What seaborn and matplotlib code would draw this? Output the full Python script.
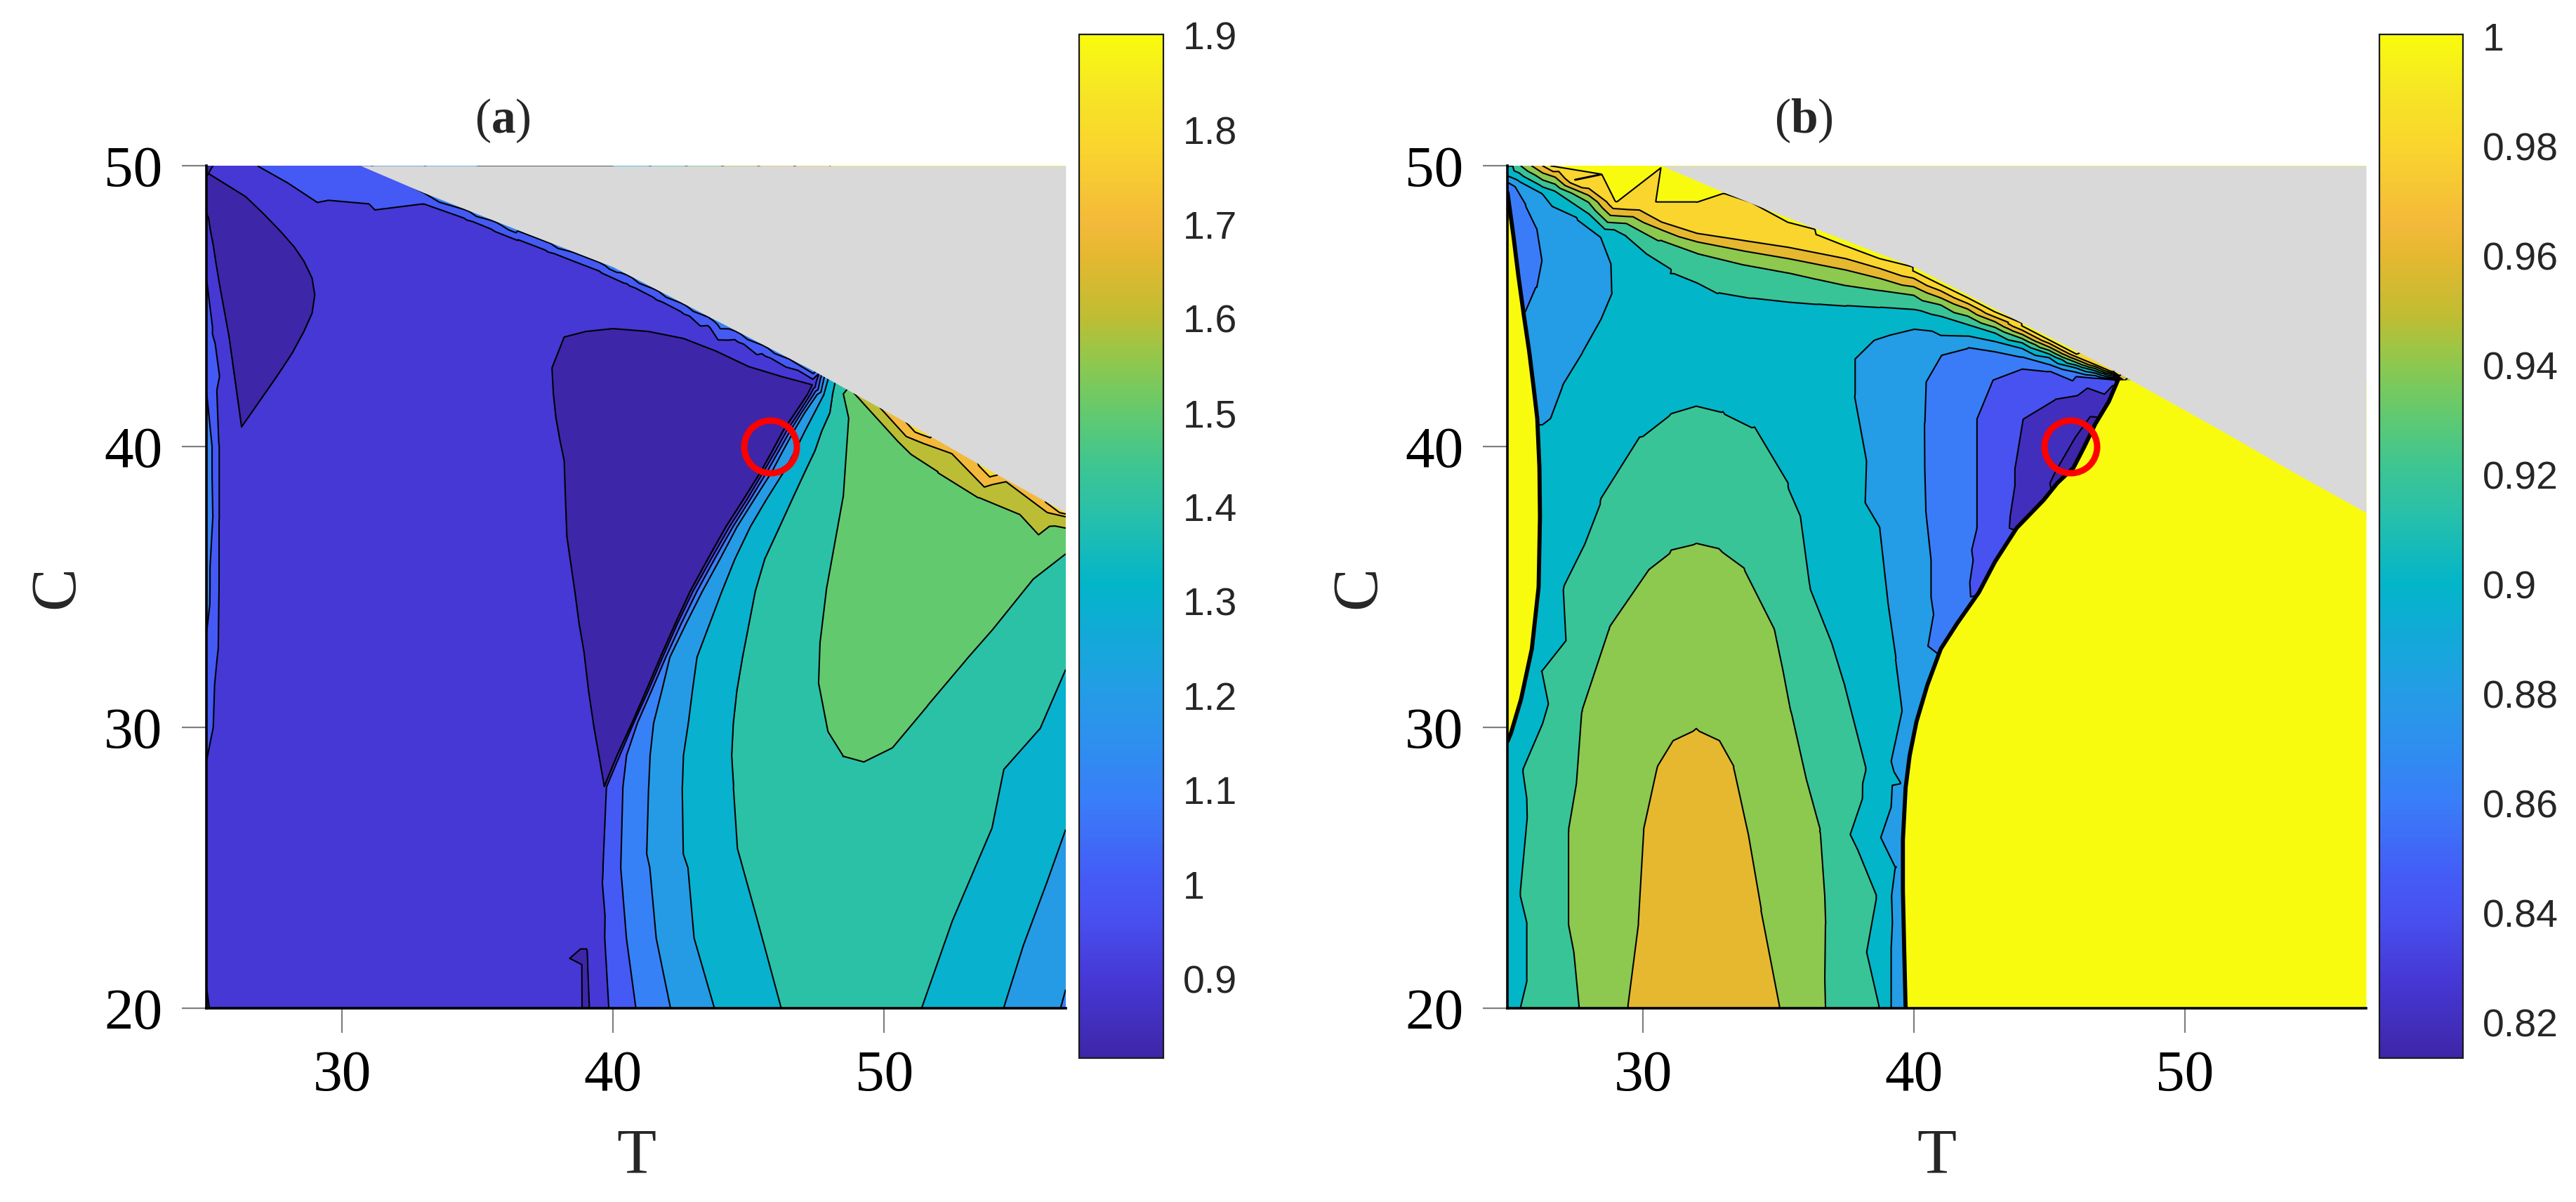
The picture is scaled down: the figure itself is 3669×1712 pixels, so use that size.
import numpy as np
import matplotlib
matplotlib.use("Agg")
import matplotlib.pyplot as plt
import matplotlib.tri as mtri
from matplotlib.colors import LinearSegmentedColormap, Normalize
from matplotlib.cm import ScalarMappable
import seaborn as sns

# ---------------- shared ----------------
# boundary of the grey (infeasible) region
mask_T = [30.7, 33.0, 36.4, 40.0, 44.0, 47.4, 51.3, 54.0, 56.7]
mask_C = [50.0, 49.05, 47.75, 46.4, 44.4, 42.7, 40.6, 39.1, 37.65]
circle_T = [45.8]
circle_C = [40.0]

# ---------------- panel (a) ----------------
# compressed fan right of the dark lobe: T position of each contour at common C rows
fan_C = [27.9, 29.0, 30.15, 31.3, 32.5, 33.7, 34.85, 36.0, 37.15, 38.1, 39.1, 39.85, 40.55, 41.2, 41.85]
fan_T_090 = [39.68, 40.15, 40.7, 41.22, 41.75, 42.3, 42.85, 43.5, 44.17, 44.8, 45.45, 45.88, 46.27, 46.72, 47.17]
fan_T_100 = [39.77, 40.25, 40.76, 41.3, 41.83, 42.38, 42.95, 43.62, 44.3, 44.93, 45.55, 46.0, 46.4, 46.85, 47.28]
fan_T_110 = [40.37, 40.5, 40.9, 41.42, 41.95, 42.52, 43.1, 43.75, 44.43, 45.05, 45.68, 46.12, 46.53, 46.95, 47.4]
fan_T_120 = [41.32, 41.37, 41.5, 41.8, 42.1, 42.7, 43.3, 43.95, 44.58, 45.2, 45.86, 46.27, 46.67, 47.07, 47.53]
fan_T_130 = [42.56, 42.6, 42.78, 42.93, 43.1, 43.57, 44.02, 44.5, 45.07, 45.65, 46.3, 46.72, 47.08, 47.43, 47.78]
fan_T_140 = [44.45, 44.38, 44.44, 44.57, 44.78, 45.02, 45.25, 45.6, 46.15, 46.6, 47.08, 47.45, 47.7, 48.0, 48.1]

# dark lobe (value < 0.9): top arc and left side (the right side is fan_T_090)
a_lobe2_top_left = [(47.35, 42.2), (46.2, 42.5), (45.0, 42.85), (43.8, 43.4), (42.6, 43.85), (41.3, 44.1),
                    (40.0, 44.2), (39.0, 44.1), (38.2, 43.9), (37.75, 42.8), (37.8, 41.9), (37.9, 41.0),
                    (38.05, 40.2), (38.2, 39.5), (38.25, 38.1), (38.3, 36.8), (38.45, 35.8), (38.6, 34.8),
                    (38.75, 33.7), (38.93, 32.7), (39.1, 31.3), (39.3, 30.0), (39.5, 28.9)]
a_iso_090_lobe1 = [(25.08, 49.72), (25.7, 49.35), (26.45, 48.9), (27.1, 48.3), (27.75, 47.65), (28.25, 47.1),
                   (28.6, 46.6), (28.9, 46.0), (29.0, 45.4), (28.9, 44.75), (28.6, 44.1), (28.15, 43.3),
                   (27.6, 42.5), (26.95, 41.6), (26.3, 40.7), (26.2, 41.4), (26.1, 42.1), (25.97, 43.0),
                   (25.84, 43.9), (25.67, 44.8), (25.5, 45.7), (25.37, 46.45), (25.25, 47.2), (25.15, 47.7),
                   (25.08, 48.15), (25.0, 48.3), (25.0, 49.6)]
a_iso_100_low = [(39.85, 20), (39.7, 22.5), (39.64, 25)]
a_iso_110_low = [(40.85, 20), (40.5, 22.5), (40.29, 25)]
a_iso_120_low = [(42.13, 20), (41.6, 22.5), (41.25, 25.5)]
a_iso_130_low = [(43.75, 20), (43.0, 22.5), (42.6, 25.5)]
a_iso_140_low = [(46.22, 20), (45.35, 23.1), (44.6, 25.7)]
a_fan_tops = [(47.6, 42.6), (47.7, 42.55), (47.8, 42.5), (47.95, 42.45), (48.2, 42.3)]
a_iso_150 = [(48.65, 42.05), (48.7, 41.0), (48.5, 38.2), (47.9, 35.0), (47.65, 33.0), (47.6, 31.6), (47.95, 29.85),
             (48.5, 29.0), (49.25, 28.8), (50.3, 29.3), (51.6, 30.8), (53.0, 32.4), (54.0, 33.5), (55.5, 35.3),
             (56.7, 36.2)]
a_iso_160 = [(48.9, 41.9), (50.5, 40.2), (52.0, 39.1), (53.5, 38.2), (55.0, 37.6), (56.7, 37.1)]
a_iso_170 = [(52.5, 39.75), (54.5, 38.75), (56.7, 37.5)]
a_iso_140r = [(51.37, 20), (52.5, 23.1), (53.96, 26.4), (55.74, 29.96), (56.7, 32.1)]
a_iso_130r = [(54.4, 20), (55.15, 22.3), (56.0, 24.5), (56.7, 26.4)]
a_iso_120r = [(56.5, 20), (56.7, 20.7)]
a_iso_100_top = [(26.9, 50), (28.0, 49.4), (29.1, 48.7), (31.0, 48.65), (33.0, 48.65)]
a_mask_V = [1.08, 1.1, 1.15, 1.15, 1.15, 1.15, 1.85, 1.85, 1.85]

# panel (a): single samples (T, C, value)
a_samples = [
    # main plateau
    (27.5, 21, 0.95), (32, 21, 0.95), (36.5, 21, 0.95), (27.5, 26, 0.95), (32, 26, 0.95), (36.5, 26, 0.95),
    (28, 31, 0.95), (33, 31, 0.95), (37, 31, 0.95), (28.5, 36, 0.95), (33, 36, 0.95), (36.5, 36, 0.95),
    (28, 39.5, 0.95), (32, 40, 0.95), (36, 40.5, 0.95), (30.5, 43, 0.95), (34, 43.5, 0.95), (36.5, 44.5, 0.95),
    (31, 46.5, 0.95), (33.5, 46.5, 0.95), (31, 47.9, 0.96), (29.5, 48.2, 0.96), (27.3, 48.95, 0.96),
    (38.5, 25, 0.95), (38.8, 27.5, 0.95), (38.3, 22.5, 0.95), (26.5, 38, 0.95), (27, 33, 0.95), (26.5, 24, 0.95),
    (30, 20, 0.95), (35, 20, 0.95), (38.5, 20, 0.95), (25.4, 20, 0.95), (37.2, 38.0, 0.95), (36.8, 42.5, 0.95),
    (39.0, 45.2, 0.95), (37.3, 40.0, 0.95), (37.6, 36.0, 0.95), (38.0, 33.0, 0.95), (38.6, 30.0, 0.95),
    (38.9, 29.0, 0.95), (41.0, 44.75, 0.95), (43.0, 44.1, 0.95), (29.8, 43.0, 0.95), (27.8, 41.2, 0.95),
    # dark lobes
    (26.0, 47.5, 0.86), (26.8, 46.0, 0.86), (27.5, 45.0, 0.86), (26.6, 43.5, 0.86), (26.5, 42.2, 0.87),
    (40.0, 42.5, 0.86), (42.5, 42.8, 0.86), (44.5, 42.3, 0.86), (39.5, 38.5, 0.86), (41.8, 38.5, 0.86),
    (43.6, 39.6, 0.86), (40.5, 34.5, 0.86), (40.0, 31.5, 0.87), (39.7, 29.3, 0.88), (39.4, 34.0, 0.87),
    (39.0, 37.0, 0.86), (38.7, 41.0, 0.86),
    (40.0, 30.1, 0.88), (40.15, 31.3, 0.87), (40.4, 32.7, 0.86), (40.5, 33.7, 0.86), (40.7, 34.8, 0.86),
    (40.9, 35.8, 0.86), (41.05, 36.8, 0.86), (41.4, 38.1, 0.86), (41.9, 39.5, 0.86), (42.2, 40.6, 0.86),
    (42.5, 41.9, 0.86), (44.0, 41.0, 0.86), (45.2, 41.9, 0.86), (43.2, 37.5, 0.86), (42.3, 35.6, 0.86),
    # left edge strip
    (25, 20, 0.88), (25, 22, 0.93), (25, 25, 0.95), (25, 28, 0.98), (25, 30, 1.03), (25, 32.5, 1.08),
    (25, 35, 1.14), (25, 37.5, 1.2), (25, 40, 1.18), (25, 42, 1.1), (25, 44, 1.05), (25, 46, 1.0),
    (25, 47.5, 0.95), (25, 48.8, 0.87), (25, 49.5, 0.87), (25, 50, 0.88),
    (25.5, 28, 0.95), (25.5, 30, 0.97), (25.5, 32.5, 0.98), (25.5, 35, 0.99), (25.5, 37.5, 0.99),
    (25.5, 40, 0.99), (25.5, 42, 0.97), (25.45, 44, 0.95),
    # small dark sliver near T = 39
    (39.0, 20, 0.88), (39.4, 20, 0.94), (38.95, 22, 0.885), (39.0, 24, 0.91), (39.3, 22.5, 0.95),
    # fan between the bands
    (40.35, 20, 1.05), (41.5, 20, 1.15), (42.95, 20, 1.25), (45.0, 20, 1.35),
    (39.97, 25, 1.05), (40.78, 25, 1.15), (41.95, 25, 1.25), (43.6, 25, 1.35),
    (41.15, 30, 1.15), (42.1, 30, 1.25), (43.6, 30, 1.35), (43.7, 35, 1.25), (44.7, 35, 1.35),
    # teal / cyan / green / olive regions
    (48.5, 21, 1.45), (47.5, 25, 1.45), (50.5, 24.5, 1.45), (46, 30, 1.45), (46.3, 33.5, 1.45),
    (47.3, 37.5, 1.45), (52.5, 28, 1.45), (55.5, 33, 1.45), (56.7, 34, 1.45), (49.5, 27.0, 1.47),
    (53.4, 21.5, 1.35), (55, 25.5, 1.35), (56.3, 29.0, 1.35), (55.8, 21.5, 1.25),
    (50.5, 36, 1.55), (52, 34.5, 1.55), (49.5, 32, 1.55), (50.5, 39.5, 1.55), (54, 36.3, 1.55), (49.8, 30.5, 1.55),
    (51.5, 39.95, 1.65), (54.0, 38.5, 1.65), (55.8, 37.65, 1.65),
    # right / bottom / top edges
    (56.7, 20, 1.19), (56.7, 23, 1.25), (56.7, 29, 1.36), (56.7, 36.8, 1.56), (56.7, 42, 1.9), (56.7, 50, 1.9),
    (48.8, 20, 1.47), (52.9, 20, 1.35), (55.5, 20, 1.25),
    (25.5, 50, 0.92), (26.2, 50, 0.96), (28.5, 50, 1.05), (35, 50, 1.3), (40, 50, 1.3), (48, 50, 1.9),
    (29.5, 49.5, 1.05), (31.5, 49.1, 1.05), (28.2, 49.8, 1.04),
    # just below / above the grey boundary
    (34.5, 48.03, 0.97), (35.5, 47.64, 0.97), (36.5, 47.26, 0.97), (37.5, 46.89, 0.97), (38.5, 46.51, 0.97),
    (39.5, 46.14, 0.97), (40.5, 45.70, 0.97), (41.5, 45.20, 0.97), (42.5, 44.70, 0.97), (43.5, 44.20, 0.97),
    (44.5, 43.70, 0.97), (45.5, 43.20, 0.97),
    (34.5, 48.36, 1.06), (35.5, 47.97, 1.06), (36.5, 47.59, 1.06), (37.5, 47.22, 1.06), (38.5, 46.84, 1.06),
    (39.5, 46.47, 1.06), (40.5, 46.03, 1.06), (41.5, 45.53, 1.06), (42.5, 45.03, 1.06), (43.5, 44.53, 1.06),
    (44.5, 44.03, 1.06), (45.5, 43.53, 1.06), (46.5, 43.03, 1.06),
    (34.5, 48.78, 1.25), (35.5, 48.39, 1.25), (36.5, 48.01, 1.25), (37.5, 47.64, 1.25), (38.5, 47.26, 1.25),
    (39.5, 46.89, 1.25), (40.5, 46.45, 1.25), (41.5, 45.95, 1.25), (42.5, 45.45, 1.25), (43.5, 44.95, 1.25),
    (44.5, 44.45, 1.25), (45.5, 43.95, 1.25), (46.5, 43.45, 1.25),
    (45, 48, 1.3), (50, 45, 1.9), (53, 43, 1.9),
]
a_levels = [0.9, 1.0, 1.1, 1.2, 1.3, 1.4, 1.5, 1.6, 1.7, 1.8, 1.9]
a_ticks = [0.9, 1.0, 1.1, 1.2, 1.3, 1.4, 1.5, 1.6, 1.7, 1.8, 1.9]
a_ticklabels = ["0.9", "1", "1.1", "1.2", "1.3", "1.4", "1.5", "1.6", "1.7", "1.8", "1.9"]
a_range = (0.8159, 1.9013)

a_lobe2_loop = list(zip(fan_T_090, fan_C)) + a_lobe2_top_left
a_lines = [(0.9, a_lobe2_loop), (0.9, a_iso_090_lobe1),
           (1.0, a_iso_100_low + list(zip(fan_T_100, fan_C)) + [a_fan_tops[0]]),
           (1.1, a_iso_110_low + list(zip(fan_T_110, fan_C)) + [a_fan_tops[1]]),
           (1.2, a_iso_120_low + list(zip(fan_T_120, fan_C)) + [a_fan_tops[2]]),
           (1.3, a_iso_130_low + list(zip(fan_T_130, fan_C)) + [a_fan_tops[3]]),
           (1.4, a_iso_140_low + list(zip(fan_T_140, fan_C)) + [a_fan_tops[4]]),
           (1.5, a_iso_150), (1.6, a_iso_160), (1.7, a_iso_170),
           (1.4, a_iso_140r), (1.3, a_iso_130r), (1.2, a_iso_120r), (1.0, a_iso_100_top)]

# ---------------- panel (b) ----------------
# saturated (value 1) regions: right front and left strip, edges
b_front_T = [39.7, 39.65, 39.6, 39.6, 39.7, 39.85, 40.1, 40.5, 41.0, 41.6, 42.4, 43.0, 43.8, 44.8, 45.3, 45.9,
             46.3, 46.7, 47.2, 47.54]
b_front_C = [20, 22, 24.2, 26, 27.85, 29.0, 30.2, 31.5, 32.8, 33.7, 34.8, 35.9, 37.1, 38.1, 38.7, 39.25,
             40.0, 40.8, 41.6, 42.37]
b_strip_T = [25.0, 25.13, 25.5, 25.9, 26.15, 26.2, 26.18, 26.1, 25.96, 25.8, 25.6, 25.4, 25.22, 25.0]
b_strip_C = [29.5, 29.8, 31.0, 32.8, 35.0, 37.5, 39.25, 41.0, 42.15, 43.4, 44.7, 46.1, 47.5, 49.05]

b_iso_088_lobe = [(25.3, 49.25), (25.7, 48.6), (26.1, 47.8), (26.3, 46.6), (26.1, 45.6)]
b_iso_090_lobe = [(25.0, 49.65), (26.3, 49.0), (27.6, 48.15), (28.5, 47.5), (28.9, 46.5), (28.93, 45.48),
                  (28.5, 44.5), (27.8, 43.3), (27.1, 42.2), (26.3, 40.75)]
b_iso_092_top = [(25.2, 50), (26.76, 49.1), (28.0, 48.3), (29.4, 47.5), (31.1, 46.3), (32.0, 45.95), (32.8, 45.55),
                 (34.0, 45.35), (35.4, 45.2), (36.45, 45.12), (37.5, 45.05), (38.75, 44.98), (40, 44.9),
                 (41, 44.65), (42, 44.35), (43, 44.05), (44, 43.7), (45, 43.3), (46, 42.9), (46.7, 42.7),
                 (47.4, 42.5)]
b_iso_094_top = [(25.5, 50), (26.76, 49.35), (28.0, 48.7), (29.4, 47.95), (30.7, 47.35), (32, 46.9), (33.7, 46.5),
                 (35.4, 46.2), (36.45, 45.97), (37.5, 45.75), (38.75, 45.57), (40, 45.4), (41, 45.05), (42, 44.65),
                 (43, 44.25), (44, 43.85), (45, 43.43), (46, 43.0), (46.7, 42.78), (47.4, 42.55)]
b_iso_096_top = [(25.9, 50), (26.76, 49.6), (28.0, 48.95), (29.4, 48.2), (30.7, 47.72), (32, 47.3), (33.7, 46.98),
                 (35.4, 46.7), (36.45, 46.5), (37.5, 46.3), (38.75, 46.0), (40, 45.7), (41, 45.3), (42, 44.9),
                 (43, 44.45), (44, 44.0), (45, 43.55), (46, 43.1), (46.7, 42.85), (47.4, 42.6)]
b_iso_098_top = [(26.3, 50), (26.9, 49.8), (28.0, 49.2), (29.4, 48.45), (30.7, 48.0), (32, 47.6), (33.7, 47.35),
                 (35.4, 47.1), (36.45, 46.9), (37.5, 46.7), (38.75, 46.35), (40, 46.0), (41, 45.55), (42, 45.1),
                 (43, 44.62), (44, 44.15), (45, 43.68), (46, 43.2), (46.7, 42.92), (47.4, 42.65)]
b_iso_100_top = [(26.6, 50), (27.5, 49.5), (29.0, 48.73), (30.5, 48.73), (32, 48.73), (34.0, 48.73), (35.4, 48.0),
                 (36.45, 47.55), (37.5, 47.15), (38.75, 46.7), (40, 46.25), (41, 45.77), (42, 45.3), (43, 44.8),
                 (44, 44.3), (45, 43.8), (46, 43.3)]
b_iso_090_right = [(39.15, 20), (39.15, 22), (39.3, 25), (39.5, 28), (39.55, 30.6), (39.3, 32.5), (39.0, 34.5),
                   (38.7, 37.1), (38.2, 39.5), (37.76, 41.8), (37.76, 43.1), (38.5, 43.8), (40, 44.2), (42, 43.95),
                   (43, 43.75), (44, 43.5), (45, 43.17), (46, 42.8), (46.7, 42.62), (47.4, 42.45)]
b_iso_088_right = [(40.9, 32.6), (40.7, 34.0), (40.6, 36.0), (40.4, 37.8), (40.36, 39.25), (40.35, 40.8), (40.4, 42.3),
                   (41.0, 43.3), (42.0, 43.55), (43, 43.4), (44, 43.2), (45, 42.93), (46, 42.65), (46.7, 42.53),
                   (47.4, 42.42)]
b_iso_086_right = [(42.35, 34.7), (42.3, 37.1), (42.3, 39.0), (42.3, 41.0), (42.9, 42.4), (44, 42.8), (45, 42.7),
                   (46, 42.5), (46.7, 42.44), (47.4, 42.38)]
b_iso_084_right = [(43.75, 37.0), (43.7, 39.25), (44.0, 41.0), (45.2, 41.7), (46.4, 42.1), (47.35, 42.2)]
b_iso_082_right = [(45.3, 39.3), (45.9, 40.3), (46.5, 41.1)]
b_iso_092_u = [(25.5, 20), (25.5, 24), (25.6, 28.5), (26.3, 32), (27.1, 34.95), (28.5, 38.0), (30.0, 40.3),
               (31.0, 41.05), (31.97, 41.33), (32.95, 41.1), (34.0, 40.6), (35.3, 38.5), (36.1, 35.0), (37.4, 31.5),
               (38.2, 28.5), (38.6, 24), (38.7, 20)]
b_iso_094_u = [(27.7, 20), (27.3, 23), (27.3, 26.3), (27.8, 30.6), (28.8, 33.5), (30.3, 35.6), (31.1, 36.2),
               (31.97, 36.4), (32.85, 36.2), (33.7, 35.6), (34.8, 33.5), (35.4, 30.6), (36.5, 26.3), (36.7, 23),
               (36.7, 20)]
b_iso_096_u = [(29.5, 20), (29.9, 23), (30.1, 26.3), (30.6, 28.5), (31.2, 29.45), (31.97, 29.8), (32.75, 29.45),
               (33.3, 28.5), (33.8, 26.3), (34.3, 23.5), (35.0, 20)]
b_mask_V = [1.0, 1.0, 1.0, 1.0, 1.0, 1.0, 1.0, 1.0, 1.0]

b_samples = [
    # next to the left strip
    (25.23, 29.8, 0.905), (25.6, 31.0, 0.905), (26.0, 32.8, 0.905), (26.25, 35, 0.905), (26.3, 37.5, 0.905),
    (26.28, 39.25, 0.905), (26.2, 41, 0.895), (26.06, 42.15, 0.89), (25.9, 43.4, 0.885), (25.7, 44.7, 0.88),
    (25.32, 47.5, 0.87), (25.1, 49.05, 0.87),
    # left edge (under the strip the field keeps its neighbour value)
    (25, 20, 0.91), (25, 24, 0.91), (25, 27, 0.91), (25, 29.5, 0.905), (25, 32, 0.905), (25, 35, 0.905),
    (25, 38, 0.905), (25, 41, 0.895), (25, 44, 0.88), (25, 47, 0.87), (25, 48.7, 0.87), (25, 49.3, 0.87),
    (25, 49.85, 0.91), (25, 50, 0.92),
    # inner side of the right front
    (39.7, 20, 0.885), (39.65, 22, 0.885), (39.6, 24.2, 0.885), (39.6, 26, 0.885), (39.7, 27.85, 0.885),
    (39.85, 29.0, 0.885), (40.1, 30.2, 0.885), (40.5, 31.5, 0.885), (41.0, 32.8, 0.87), (41.6, 33.7, 0.865),
    (42.4, 34.8, 0.855), (43.0, 35.9, 0.85), (43.8, 37.1, 0.835), (44.8, 38.1, 0.825), (45.3, 38.7, 0.815),
    (45.9, 39.25, 0.8135), (46.7, 40.8, 0.815), (47.2, 41.6, 0.83),
    # under the saturated region
    (40.5, 21, 0.885), (41, 26, 0.885), (42, 30, 0.885), (43.5, 32.5, 0.87), (45, 35, 0.85), (46.5, 37.5, 0.83),
    (48, 39.5, 0.815), (49, 41.2, 0.83), (50, 22, 0.885), (52, 30, 0.88), (54, 36, 0.85), (56.7, 20, 0.885),
    (56.7, 30, 0.88), (56.7, 37.0, 0.85),
    # nested bands near the circle
    (39.0, 41.0, 0.89), (39.3, 38.0, 0.89), (39.8, 35.0, 0.89), (40.0, 33.0, 0.89), (39.3, 43.5, 0.89),
    (39.9, 30.8, 0.89), (39.45, 24.0, 0.89),
    (41.3, 39, 0.87), (41.3, 36, 0.87), (41.4, 34.3, 0.87), (41.6, 42.3, 0.87), (43, 42.9, 0.87),
    (43.0, 38.5, 0.85), (43.0, 40.5, 0.85), (42.9, 36.6, 0.85), (44.2, 42.0, 0.85), (45.8, 42.2, 0.85),
    (44.4, 38.7, 0.83), (44.8, 40.5, 0.83),
    # upper-left lobes
    (25.75, 47.0, 0.87), (27.3, 46.5, 0.89), (27.5, 45.0, 0.89), (26.8, 43.5, 0.89), (26.6, 48.3, 0.89),
    # cyan plateau
    (36.5, 42.5, 0.91), (37.0, 38.0, 0.91), (37.9, 33.0, 0.91), (38.85, 28.0, 0.91), (38.95, 22.0, 0.91),
    (29.8, 46.6, 0.91), (29.5, 43.5, 0.91), (33, 44.0, 0.91), (35.5, 44.0, 0.91), (40.5, 44.55, 0.91),
    (27.0, 37.0, 0.91), (27.5, 41.0, 0.91), (30, 41.5, 0.91), (34.5, 42.0, 0.91), (31.97, 43.5, 0.91),
    (38.95, 20, 0.91),
    # bottom U
    (32, 22, 0.975), (32, 26, 0.975), (28.5, 22, 0.95), (28.7, 28, 0.95), (32, 33, 0.95), (35.7, 24, 0.95),
    (34.3, 31, 0.95), (29.5, 31, 0.95), (26.5, 22, 0.93), (26.5, 28, 0.93), (30, 38.5, 0.93), (32, 39.5, 0.93),
    (37.5, 22, 0.93), (37.3, 28, 0.93), (35.95, 33, 0.93), (28.8, 36, 0.93), (34.5, 37.0, 0.93),
    (26.6, 20, 0.93), (28.6, 20, 0.95), (32, 20, 0.975), (35.85, 20, 0.95), (37.7, 20, 0.93),
    # upper stacked bands
    (30.5, 47.15, 0.93), (35.4, 45.7, 0.93), (40, 45.15, 0.93), (35.4, 46.45, 0.95), (40, 45.55, 0.95),
    (35.4, 46.9, 0.97), (40, 45.85, 0.97), (32, 48.2, 0.99), (35.4, 47.5, 0.99), (40, 46.12, 0.99), (30, 48.55, 0.99),
    (37.5, 46.93, 0.99),
    # saturated top wedge and the hidden grey area
    (56.7, 42, 1.0), (56.7, 50, 1.0), (45, 48, 1.0), (50, 45, 1.0), (40, 50, 1.0), (35, 50, 1.0),
    (28.5, 49.7, 1.0), (31, 49.3, 1.0), (48, 50, 1.0),
]
b_lines = [(0.88, b_iso_088_lobe), (0.9, b_iso_090_lobe),
           (0.92, b_iso_092_top), (0.94, b_iso_094_top), (0.96, b_iso_096_top), (0.98, b_iso_098_top),
           (1.0, b_iso_100_top), (0.9, b_iso_090_right), (0.88, b_iso_088_right), (0.86, b_iso_086_right),
           (0.84, b_iso_084_right), (0.82, b_iso_082_right), (0.92, b_iso_092_u), (0.94, b_iso_094_u),
           (0.96, b_iso_096_u)]
b_levels = [0.82, 0.84, 0.86, 0.88, 0.90, 0.92, 0.94, 0.96, 0.98, 1.0]
b_ticks = [0.82, 0.84, 0.86, 0.88, 0.90, 0.92, 0.94, 0.96, 0.98, 1.0]
b_ticklabels = ["0.82", "0.84", "0.86", "0.88", "0.9", "0.92", "0.94", "0.96", "0.98", "1"]
b_range = (0.8135, 1.0004)
b_saturated_value = 1.0

# ---------------- style ----------------
sns.set_theme(style="white")
plt.rcParams["font.family"] = ["Liberation Serif", "DejaVu Serif"]
plt.rcParams["mathtext.fontset"] = "custom"
plt.rcParams["mathtext.rm"] = "Liberation Serif"
plt.rcParams["mathtext.bf"] = "Liberation Serif:bold"

parula_pos = [0.0, 0.04, 0.08, 0.14, 0.17, 0.25, 0.30, 0.355, 0.41, 0.463, 0.54, 0.575, 0.63, 0.68, 0.725,
              0.785, 0.815, 0.89, 0.95, 1.0]
parula_hex = ["#3E26A8", "#4230C1", "#4639D7", "#4852F0", "#4559F5", "#3A7DF8", "#2F8DF0", "#259CE6", "#13A9D8",
              "#03B5C9", "#2CC1A6", "#3BC594", "#62C96F", "#8EC84E", "#BFBD33", "#E5B830", "#F3B93A", "#F9D42E",
              "#F6E723", "#F9FB0E"]
parula = LinearSegmentedColormap.from_list("parula_like", list(zip(parula_pos, parula_hex)))

fig = plt.figure(figsize=(36.69, 17.12), dpi=100)
ax_a = fig.add_axes([0.0801, 0.1612, 0.3336, 0.7009])
cax_a = fig.add_axes([0.4189, 0.1197, 0.0327, 0.8516])
ax_b = fig.add_axes([0.5852, 0.1612, 0.3333, 0.7009])
cax_b = fig.add_axes([0.9237, 0.1197, 0.0324, 0.8516])

LW = 1.5


def gather(lines, samples, mask_vals):
    pts = {}
    for level, poly in lines:
        for t, c in poly:
            pts[(round(t, 4), round(c, 4))] = level
    for t, c, v in samples:
        pts[(round(t, 4), round(c, 4))] = v
    for t, c, v in zip(mask_T, mask_C, mask_vals):
        pts[(round(t, 4), round(c, 4))] = v
    keys = list(pts.keys())
    T = np.array([k[0] for k in keys])
    C = np.array([k[1] for k in keys])
    V = np.array([pts[k] for k in keys])
    return T, C, V


def overlay_a(ax, colors):
    # smooth rendering of the dark lobes and the compressed fan, from the same contour data
    for loop in (a_lobe2_loop, a_iso_090_lobe1):
        lt = [p[0] for p in loop] + [loop[0][0]]
        lc = [p[1] for p in loop] + [loop[0][1]]
        ax.fill(lt, lc, color=colors[0], linewidth=0, zorder=1.6)
        ax.plot(lt, lc, color="black", lw=LW, zorder=1.65)
    chains = [fan_T_090, fan_T_100, fan_T_110, fan_T_120, fan_T_130, fan_T_140]
    for k in range(len(chains) - 1):
        ax.fill_betweenx(fan_C, chains[k], chains[k + 1], color=colors[k + 1], linewidth=0, zorder=1.6)
    for ch in chains:
        ax.plot(ch, fan_C, color="black", lw=LW, zorder=1.65)


def overlay_b(ax, norm):
    sat_color = parula(norm(b_saturated_value))
    ax.fill_betweenx(b_front_C, b_front_T, 56.7, color=sat_color, linewidth=0, zorder=1.7)
    ax.fill_betweenx(b_strip_C, 25.0, b_strip_T, color=sat_color, linewidth=0, zorder=1.7)
    ax.plot(b_front_T, b_front_C, color="black", lw=4.2, solid_capstyle="round", zorder=1.8)
    ax.plot(b_strip_T, b_strip_C, color="black", lw=4.2, solid_capstyle="round", zorder=1.8)


def draw_panel(ax, cax, lines, samples, mask_vals, levels, vrange, ticks, ticklabels, title, overlay):
    T, C, V = gather(lines, samples, mask_vals)
    tri = mtri.Triangulation(T, C)
    vmin, vmax = vrange
    norm = Normalize(vmin=vmin, vmax=vmax)
    shift = 5e-4
    fill_levels = [vmin - 1.0] + [lv - shift for lv in levels] + [vmax + 1.0]
    colors = [parula(0.0)] + [parula(norm(lv)) for lv in levels]
    ax.tricontourf(tri, V, levels=fill_levels, colors=colors, zorder=1)
    ax.tricontour(tri, V, levels=[lv - shift for lv in levels], colors="black", linewidths=LW, zorder=1.5)

    if overlay == "a":
        overlay_a(ax, colors)
    else:
        overlay_b(ax, norm)

    ax.fill_between(mask_T, mask_C, 50, color="#d9d9d9", linewidth=0, zorder=2)
    ax.plot(circle_T, circle_C, "o", ms=54, mfc="none", mec="#ff0000", mew=6.5, zorder=4)

    ax.set_xlim(25, 56.7)
    ax.set_ylim(20, 50)
    ax.set_xticks([30, 40, 50])
    ax.set_yticks([20, 30, 40, 50])
    ax.set_facecolor("white")
    sns.despine(ax=ax)
    for side in ("left", "bottom"):
        ax.spines[side].set_linewidth(2.6)
        ax.spines[side].set_color("black")
        ax.spines[side].set_zorder(3)
    ax.tick_params(axis="both", direction="out", length=25, width=1.6, color="#808080",
                   labelsize=60, labelcolor="black", left=True, bottom=True)
    ax.tick_params(axis="x", pad=18)
    ax.tick_params(axis="y", pad=20)
    ax.set_xlabel("T", fontsize=66)
    ax.set_ylabel("C", fontsize=66)
    ax.xaxis.set_label_coords(0.5, -0.177)
    ax.xaxis.label.set_va("center")
    ax.yaxis.set_label_coords(-0.173, 0.5)
    ax.yaxis.label.set_va("center")
    ax.text(0.345, 1.053, title, transform=ax.transAxes, ha="center", va="center", fontsize=50)

    sm = ScalarMappable(norm=norm, cmap=parula)
    cb = fig.colorbar(sm, cax=cax)
    cb.set_ticks(ticks)
    cb.set_ticklabels(ticklabels)
    cb.outline.set_linewidth(1.6)
    cb.outline.set_edgecolor("#1a1a1a")
    cax.tick_params(direction="in", length=10, width=1.6, color="#1a1a1a", labelsize=40,
                    labelcolor="#262626", pad=20, right=True, left=False)
    for lab in cax.get_yticklabels():
        lab.set_fontfamily(["Liberation Sans", "DejaVu Sans"])


draw_panel(ax_a, cax_a, a_lines, a_samples, a_mask_V, a_levels, a_range, a_ticks, a_ticklabels,
           r"($\mathbf{a}$)", "a")
draw_panel(ax_b, cax_b, b_lines, b_samples, b_mask_V, b_levels, b_range, b_ticks, b_ticklabels,
           r"($\mathbf{b}$)", "b")

fig.savefig("out.png", dpi=100)
